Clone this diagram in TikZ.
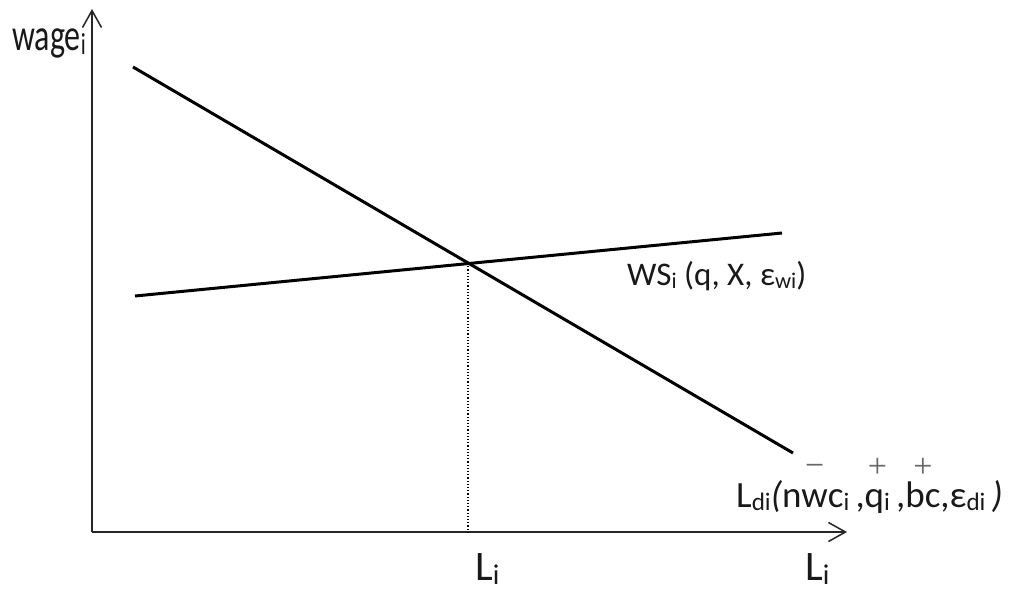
\documentclass[tikz,border=0pt]{standalone}
\usepackage{fontspec}
\setmainfont{Carlito}
\newfontfamily\signfont{Liberation Serif}
\usetikzlibrary{arrows.meta}
\newcommand{\mysub}[1]{\raisebox{-0.1em}{\scalebox{0.68}{#1}}}
\newcommand{\ontop}[3]{\setbox0\hbox{#3}\rlap{\hbox to \wd0{\hss\raisebox{#2}{\fontsize{34}{34}\signfont\color{black!60}#1}\hss}}\box0}
\tikzset{
  axis/.style={line width=1.8pt, draw=black!85, -{Straight Barb[length=17pt,width=19pt,line width=1.5pt]}},
  curve/.style={line width=3pt},
  lbl/.style={inner sep=0pt, anchor=base west, text=black!90}
}
\begin{document}
\begin{tikzpicture}[x=1pt,y=-1pt]
\useasboundingbox (0,0) rectangle (1009,592);
\coordinate (O) at (92,532);
\coordinate (Ytop) at (92,9);
\coordinate (Xend) at (847,532);
\coordinate (D1) at (133,67);
\coordinate (D2) at (793,453);
\coordinate (S1) at (135,296);
\coordinate (S2) at (782,233);
\coordinate (E) at (468,263);
\coordinate (Ebase) at (468,532);
\draw[axis] (O) -- (Ytop);
\draw[axis] (O) -- (Xend);
\draw[curve] (D1) -- (D2);
\draw[curve] (S1) -- (S2);
\draw[line width=1.2pt, dotted] (E) -- (Ebase);
\node[lbl, font=\fontsize{32}{36}\selectfont] (wage) at (12,50) {\scalebox{1}[1.4]{wage\mysub{i}}};
\node[lbl, font=\fontsize{33}{36}\selectfont] (ws) at (627,285) {WS\mysub{i} (q, X, ε\mysub{wi})};
\node[lbl, font=\fontsize{37}{40}\selectfont] (ld) at (736,507) {L\mysub{di}\textit{(}n\ontop{−}{31pt}{w}c\mysub{i}\,,\ontop{+}{30pt}{q\mysub{i}}\,,\ontop{+}{30pt}{bc},ε\mysub{di}\,\textit{)}};
\node[lbl, font=\fontsize{42}{46}\selectfont] (li1) at (475,580) {L\mysub{i}};
\node[lbl, font=\fontsize{42}{46}\selectfont] (li2) at (805,580) {L\mysub{i}};
\end{tikzpicture}
\end{document}
